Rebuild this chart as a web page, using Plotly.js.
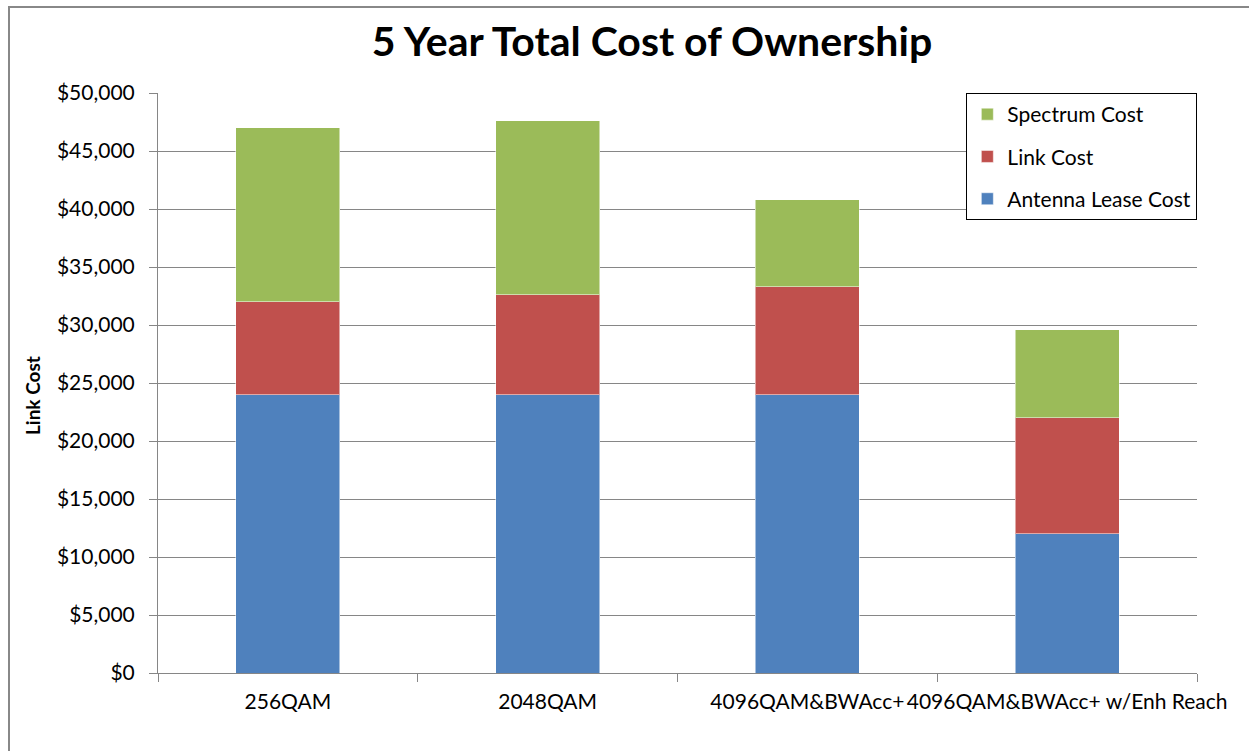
<!DOCTYPE html>
<html>
<head>
<meta charset="utf-8">
<script src="https://cdn.plot.ly/plotly-3.0.1.min.js"></script>
<style>
  html, body { margin: 0; padding: 0; background: #fff; }
  #chart { width: 1249px; height: 751px; position: relative; }
  #frame { position: absolute; left: 8px; top: 6px; width: 1260px; height: 760px;
           border-top: 2px solid #888; border-left: 2px solid #888; pointer-events: none; z-index: 10; }
</style>
</head>
<body>
<div id="frame"></div>
<div id="chart"></div>
<script>
const categories = ["256QAM", "2048QAM", "4096QAM&BWAcc+", "4096QAM&BWAcc+ w/Enh Reach"];
const antennaLeaseCost = [24000, 24000, 24000, 12000];
const linkCost = [8000, 8600, 9300, 10000];
const spectrumCost = [15000, 15000, 7500, 7600];
const yAxisTitle = "Link Cost";

const fontFam = "Lato, 'Open Sans', sans-serif";

const traces = [
  { name: "Antenna Lease Cost", y: antennaLeaseCost, color: "#4F81BD", rank: 3 },
  { name: "Link Cost", y: linkCost, color: "#C0504D", rank: 2 },
  { name: "Spectrum Cost", y: spectrumCost, color: "#9BBB59", rank: 1 }
].map((t, i) => ({
  type: "bar",
  x: categories,
  y: t.y,
  name: t.name,
  legendgroup: "g" + i,
  legendrank: t.rank,
  marker: { color: t.color, line: { color: "rgba(255,255,255,0.5)", width: 1 } },
  hoverinfo: "x+y+name"
}));

const layout = {
  width: 1249,
  height: 751,
  margin: { l: 158, r: 52, t: 93, b: 78 },
  paper_bgcolor: "#fff",
  plot_bgcolor: "#fff",
  barmode: "stack",
  bargap: 0.6,
  title: {
    text: "<b>5 Year Total Cost of Ownership</b>",
    font: { family: fontFam, size: 41, color: "#000" },
    x: 0.522, xanchor: "center",
    y: 0.945, yanchor: "middle"
  },
  xaxis: {
    type: "category",
    tickangle: 0,
    tickson: "boundaries",
    ticks: "outside",
    ticklen: 8,
    tickcolor: "#868686",
    showline: true,
    linecolor: "#868686",
    linewidth: 1,
    showgrid: false,
    tickfont: { family: fontFam, size: 21, color: "#000" },
    ticklabelstandoff: 10
  },
  yaxis: {
    range: [0, 50000],
    dtick: 5000,
    tickprefix: "$",
    tickformat: ",d",
    ticks: "outside",
    ticklen: 8,
    tickcolor: "#868686",
    showline: true,
    linecolor: "#868686",
    linewidth: 1,
    gridcolor: "#868686",
    gridwidth: 1,
    zeroline: false,
    tickfont: { family: fontFam, size: 21, color: "#000" },
    ticklabelstandoff: 10
  },
  annotations: [{
    text: "<b>" + yAxisTitle + "</b>",
    xref: "paper", yref: "paper",
    x: -0.121, y: 0.478,
    xanchor: "center", yanchor: "middle",
    textangle: -90,
    showarrow: false,
    font: { family: fontFam, size: 19, color: "#000" }
  }],
  legend: {
    x: 0.778, xanchor: "left",
    y: 1.0, yanchor: "top",
    bgcolor: "#fff",
    bordercolor: "#000",
    borderwidth: 1,
    traceorder: "grouped",
    tracegroupgap: 12,
    font: { family: fontFam, size: 21, color: "#000" },
    itemwidth: 30
  },
  showlegend: true
};

Plotly.newPlot("chart", traces, layout, { displayModeBar: false, staticPlot: true });
</script>
</body>
</html>
